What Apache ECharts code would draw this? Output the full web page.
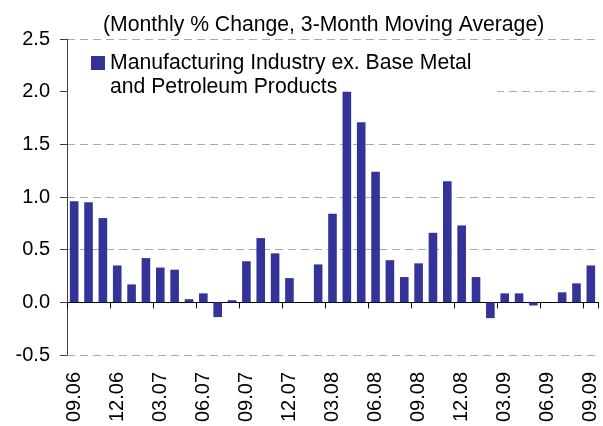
<!DOCTYPE html>
<html>
<head>
<meta charset="utf-8">
<script src="https://cdn.jsdelivr.net/npm/echarts@6/dist/echarts.min.js"></script>
<style>
html,body{margin:0;padding:0;background:#fff;}
#chart{width:603px;height:426px;}
</style>
</head>
<body>
<div id="chart"></div>
<script>
var categories = ['09.06','10.06','11.06','12.06','01.07','02.07','03.07','04.07','05.07','06.07','07.07','08.07',
  '09.07','10.07','11.07','12.07','01.08','02.08','03.08','04.08','05.08','06.08','07.08','08.08',
  '09.08','10.08','11.08','12.08','01.09','02.09','03.09','04.09','05.09','06.09','07.09','08.09','09.09'];
var values = [0.96,0.95,0.80,0.35,0.17,0.42,0.33,0.31,0.03,0.085,
  -0.14,0.02,0.39,0.61,0.465,0.23,0,0.36,0.84,2.0,
  1.71,1.24,0.40,0.24,0.37,0.66,1.15,0.73,0.24,-0.15,
  0.085,0.085,-0.03,0,0.095,0.18,0.35];
var seriesName = 'Manufacturing Industry ex. Base Metal\nand Petroleum Products';
var titleText = '(Monthly % Change, 3-Month Moving Average)';

var FONT = '"Liberation Sans", Arial, sans-serif';
var chart = echarts.init(document.getElementById('chart'));
chart.setOption({
  animation: false,
  backgroundColor: '#fff',
  title: {
    text: titleText, left: 103, top: 15, padding: 0,
    textStyle: {fontFamily: FONT, fontSize: 21.2, fontWeight: 'normal', color: '#000'}
  },
  legend: {
    data: [seriesName], left: 91, top: 27, padding: 0, z: 4,
    itemWidth: 14, itemHeight: 14, icon: 'rect',
    formatter: function (name) { return '\n' + name; },
    textStyle: {fontFamily: FONT, fontSize: 21.2, color: '#000', lineHeight: 24}
  },
  graphic: [{
    type: 'rect', z: 1, silent: true,
    shape: {x: 68, y: 46, width: 429, height: 52},
    style: {fill: '#fff'}
  }],
  grid: {left: 67, right: 5, top: 39, bottom: 71},
  xAxis: [{
    type: 'category', data: categories, position: 'bottom',
    axisLine: {show: true, onZero: true, lineStyle: {color: '#000', width: 1}},
    axisTick: {show: true, interval: 2, length: 6, alignWithLabel: false, lineStyle: {color: '#000'}},
    axisLabel: {show: false},
    splitLine: {show: false}
  }, {
    type: 'category', data: categories, position: 'bottom',
    axisLine: {show: false, onZero: false},
    axisTick: {show: false},
    axisLabel: {show: true, interval: 2, rotate: 90, margin: 17,
      fontFamily: FONT, fontSize: 20, color: '#000'},
    splitLine: {show: false}
  }],
  yAxis: {
    type: 'value', min: -0.5, max: 2.5, interval: 0.5,
    axisLine: {show: true, lineStyle: {color: '#404040', width: 1}},
    axisTick: {show: true, length: 7, lineStyle: {color: '#404040'}},
    axisLabel: {margin: 17, fontFamily: FONT, fontSize: 20, color: '#000',
      formatter: function (v) { return v.toFixed(1); }},
    splitLine: {show: true, lineStyle: {color: '#aaaaaa', type: [8, 5], width: 1}}
  },
  series: [{
    name: seriesName, type: 'bar', data: values, z: 2,
    xAxisIndex: 0, barWidth: '60%',
    itemStyle: {color: '#333399'}
  }]
});
</script>
</body>
</html>
